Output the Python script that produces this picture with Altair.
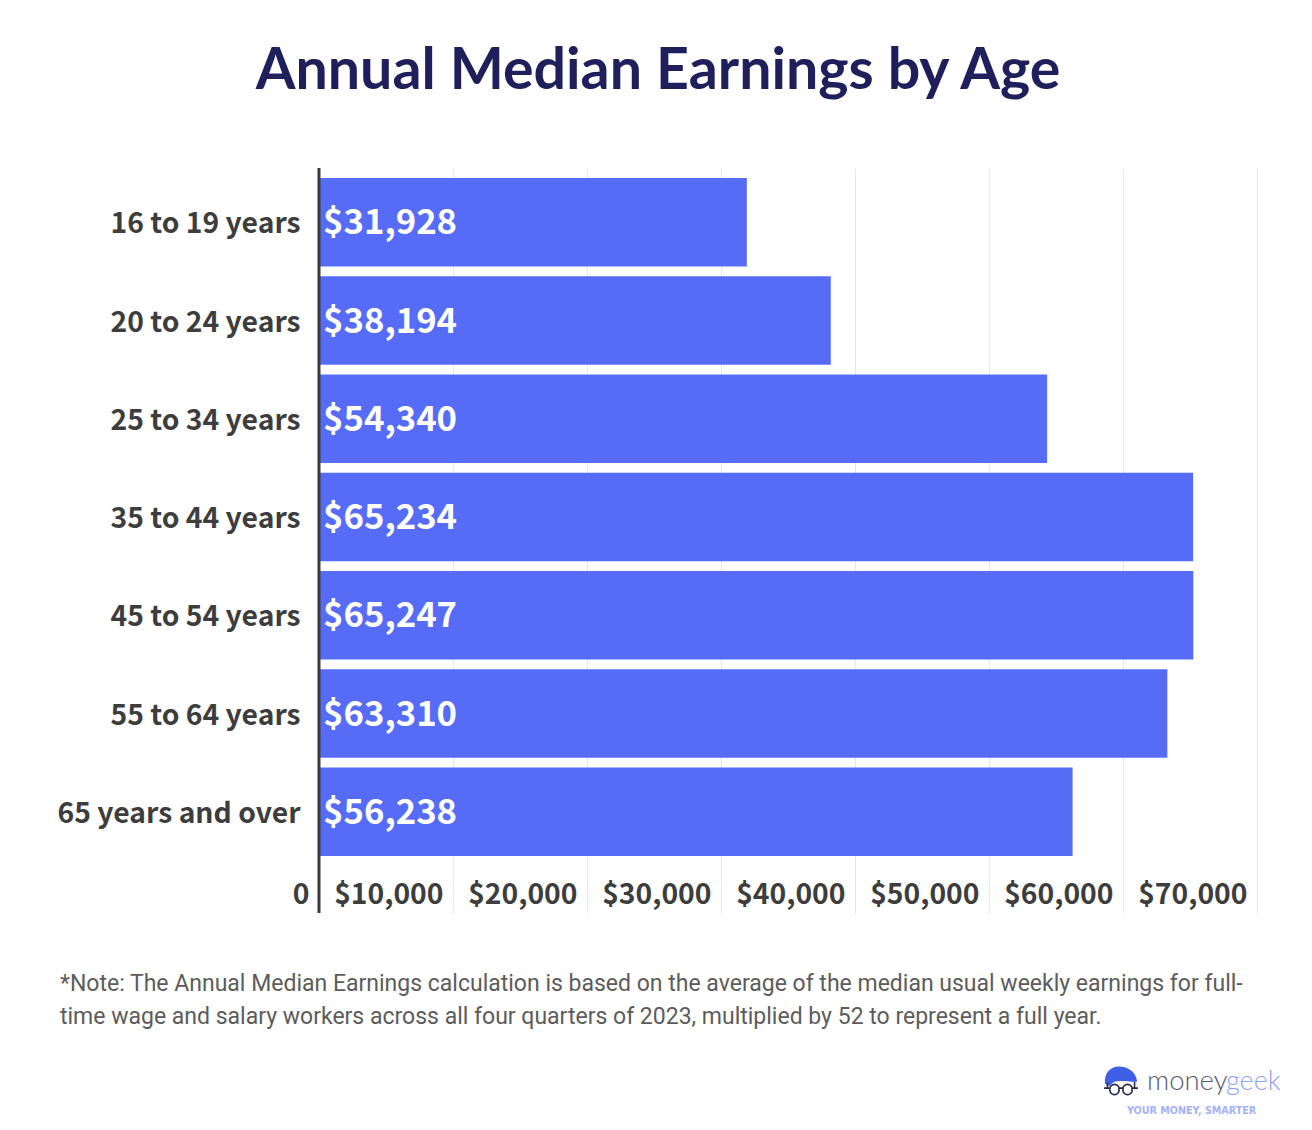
import altair as alt
import pandas as pd

ages = ["16 to 19 years","20 to 24 years","25 to 34 years","35 to 44 years","45 to 54 years","55 to 64 years","65 years and over"]
earnings = [31928,38194,54340,65234,65247,63310,56238]
labels = ["$31,928","$38,194","$54,340","$65,234","$65,247","$63,310","$56,238"]
ticks = [0,10000,20000,30000,40000,50000,60000,70000]
title_text = "Annual Median Earnings by Age"
note_lines = ["*Note: The Annual Median Earnings calculation is based on the average of the median usual weekly earnings for full-",
              "time wage and salary workers across all four quarters of 2023, multiplied by 52 to represent a full year."]
FONT = "Noto Sans CJK JP"
W, H = 938, 745
LEFT, TOP = 311, 160

df = pd.DataFrame({"age": ages, "v": earnings, "label": labels})
x = alt.X("v:Q", scale=alt.Scale(domain=[0,70000], nice=False),
    axis=alt.Axis(values=ticks, labelExpr="datum.value==0?'0':format(datum.value,'$,')", title=None,
        grid=True, gridColor="#e6e6e6", domain=False, ticks=False, labelFont=FONT, labelFontSize=28.3,
        labelFontWeight=700, labelColor="#3d3d3d", labelPadding=-32, labelOffset=-10, labelAlign="right",
        labelOverlap=False, labelFlush=False, labelBound=False))
yscale = alt.Scale(paddingInner=0.1, paddingOuter=0.341, align=0.15)
y = alt.Y("age:N", sort=ages, scale=yscale,
    axis=alt.Axis(title=None, ticks=False, domain=False, labelFont=FONT, labelFontSize=28.3, labelFontWeight=700,
        labelColor="#3d3d3d", labelPadding=19, labelLimit=300, labelOffset=3))
base = alt.Chart(df)
bars = base.mark_bar(color="#566CF6").encode(x=x, y=y)
text = base.mark_text(align="left", dx=4, dy=2, color="white", font=FONT, fontSize=34.7, fontWeight=700).encode(
    x=alt.value(0), y=y, text="label:N")
axis_line = alt.Chart(pd.DataFrame({"v":[0]})).mark_rule(color="#3a3a3a", strokeWidth=3).encode(x="v:Q")

def note(i, s):
    return alt.Chart(pd.DataFrame({"t":[s]})).mark_text(align="left", baseline="middle", font="Roboto", fontSize=23,
        color="#5c5c5c").encode(x=alt.value(60-8-LEFT), y=alt.value([984,1017][i]-8-TOP), text="t:N")
notes = [note(i, s) for i, s in enumerate(note_lines)]

def word(s, px, py, size, color, font="Lato", weight=300, align="left"):
    return alt.Chart(pd.DataFrame({"t":[s]})).mark_text(align=align, baseline="alphabetic", font=font, fontSize=size,
        fontWeight=weight, color=color).encode(x=alt.value(px-8-LEFT), y=alt.value(py-8-TOP), text="t:N")
logo_text = [word("money", 1147, 1090, 27.5, "#5a5a70"), word("geek", 1226, 1090, 27, "#8fa0fb"),
             word("YOUR MONEY, SMARTER", 1127, 1114, 9.6, "#a3b1fc", font="DejaVu Sans", weight=700)]
hair = "M-0.95 0.15 C-1 -0.5 -0.6 -0.85 -0.1 -0.85 C0.3 -0.85 0.9 -0.6 0.95 0.05 C0.5 0.05 0 -0.05 -0.4 0.05 L-0.7 0.3 Z"
face = ("M-0.8 0.1 L-0.8 0.42 M0.8 0.05 L0.8 0.42 M-1 0.42 L-0.65 0.42 M1 0.42 L0.65 0.42 M-0.12 0.42 L0.12 0.42 "
        "M-0.65 0.5 a0.27 0.25 0 1 0 0.53 0 a0.27 0.25 0 1 0 -0.53 0 "
        "M0.12 0.5 a0.27 0.25 0 1 0 0.53 0 a0.27 0.25 0 1 0 -0.53 0")
logo_hair = alt.Chart(pd.DataFrame({"a":[1]})).mark_point(shape=hair, size=1150, filled=True, color="#3F5FE8", opacity=1).encode(
    x=alt.value(1121-8-LEFT), y=alt.value(1081-8-TOP))
logo_face = alt.Chart(pd.DataFrame({"a":[1]})).mark_point(shape=face, size=1150, filled=False, color="#2d2d4a", strokeWidth=1.6, opacity=1).encode(
    x=alt.value(1121-8-LEFT), y=alt.value(1081-8-TOP))

chart = alt.layer(bars, axis_line, text, *notes, logo_hair, logo_face, *logo_text).properties(
    width=W, height=H,
    autosize=alt.AutoSizeParams(type="none"),
    padding={"left":LEFT,"top":TOP,"right":1312-LEFT-W-16,"bottom":1130-TOP-H-16},
    title=alt.TitleParams(title_text, font="Lato", fontSize=57.3, fontWeight=700, color="#1F1F5C", anchor="middle", dx=-130, offset=65))
chart = chart.configure_view(stroke=None)
chart.save("out.html", embed_options={"renderer":"svg","actions":False})
